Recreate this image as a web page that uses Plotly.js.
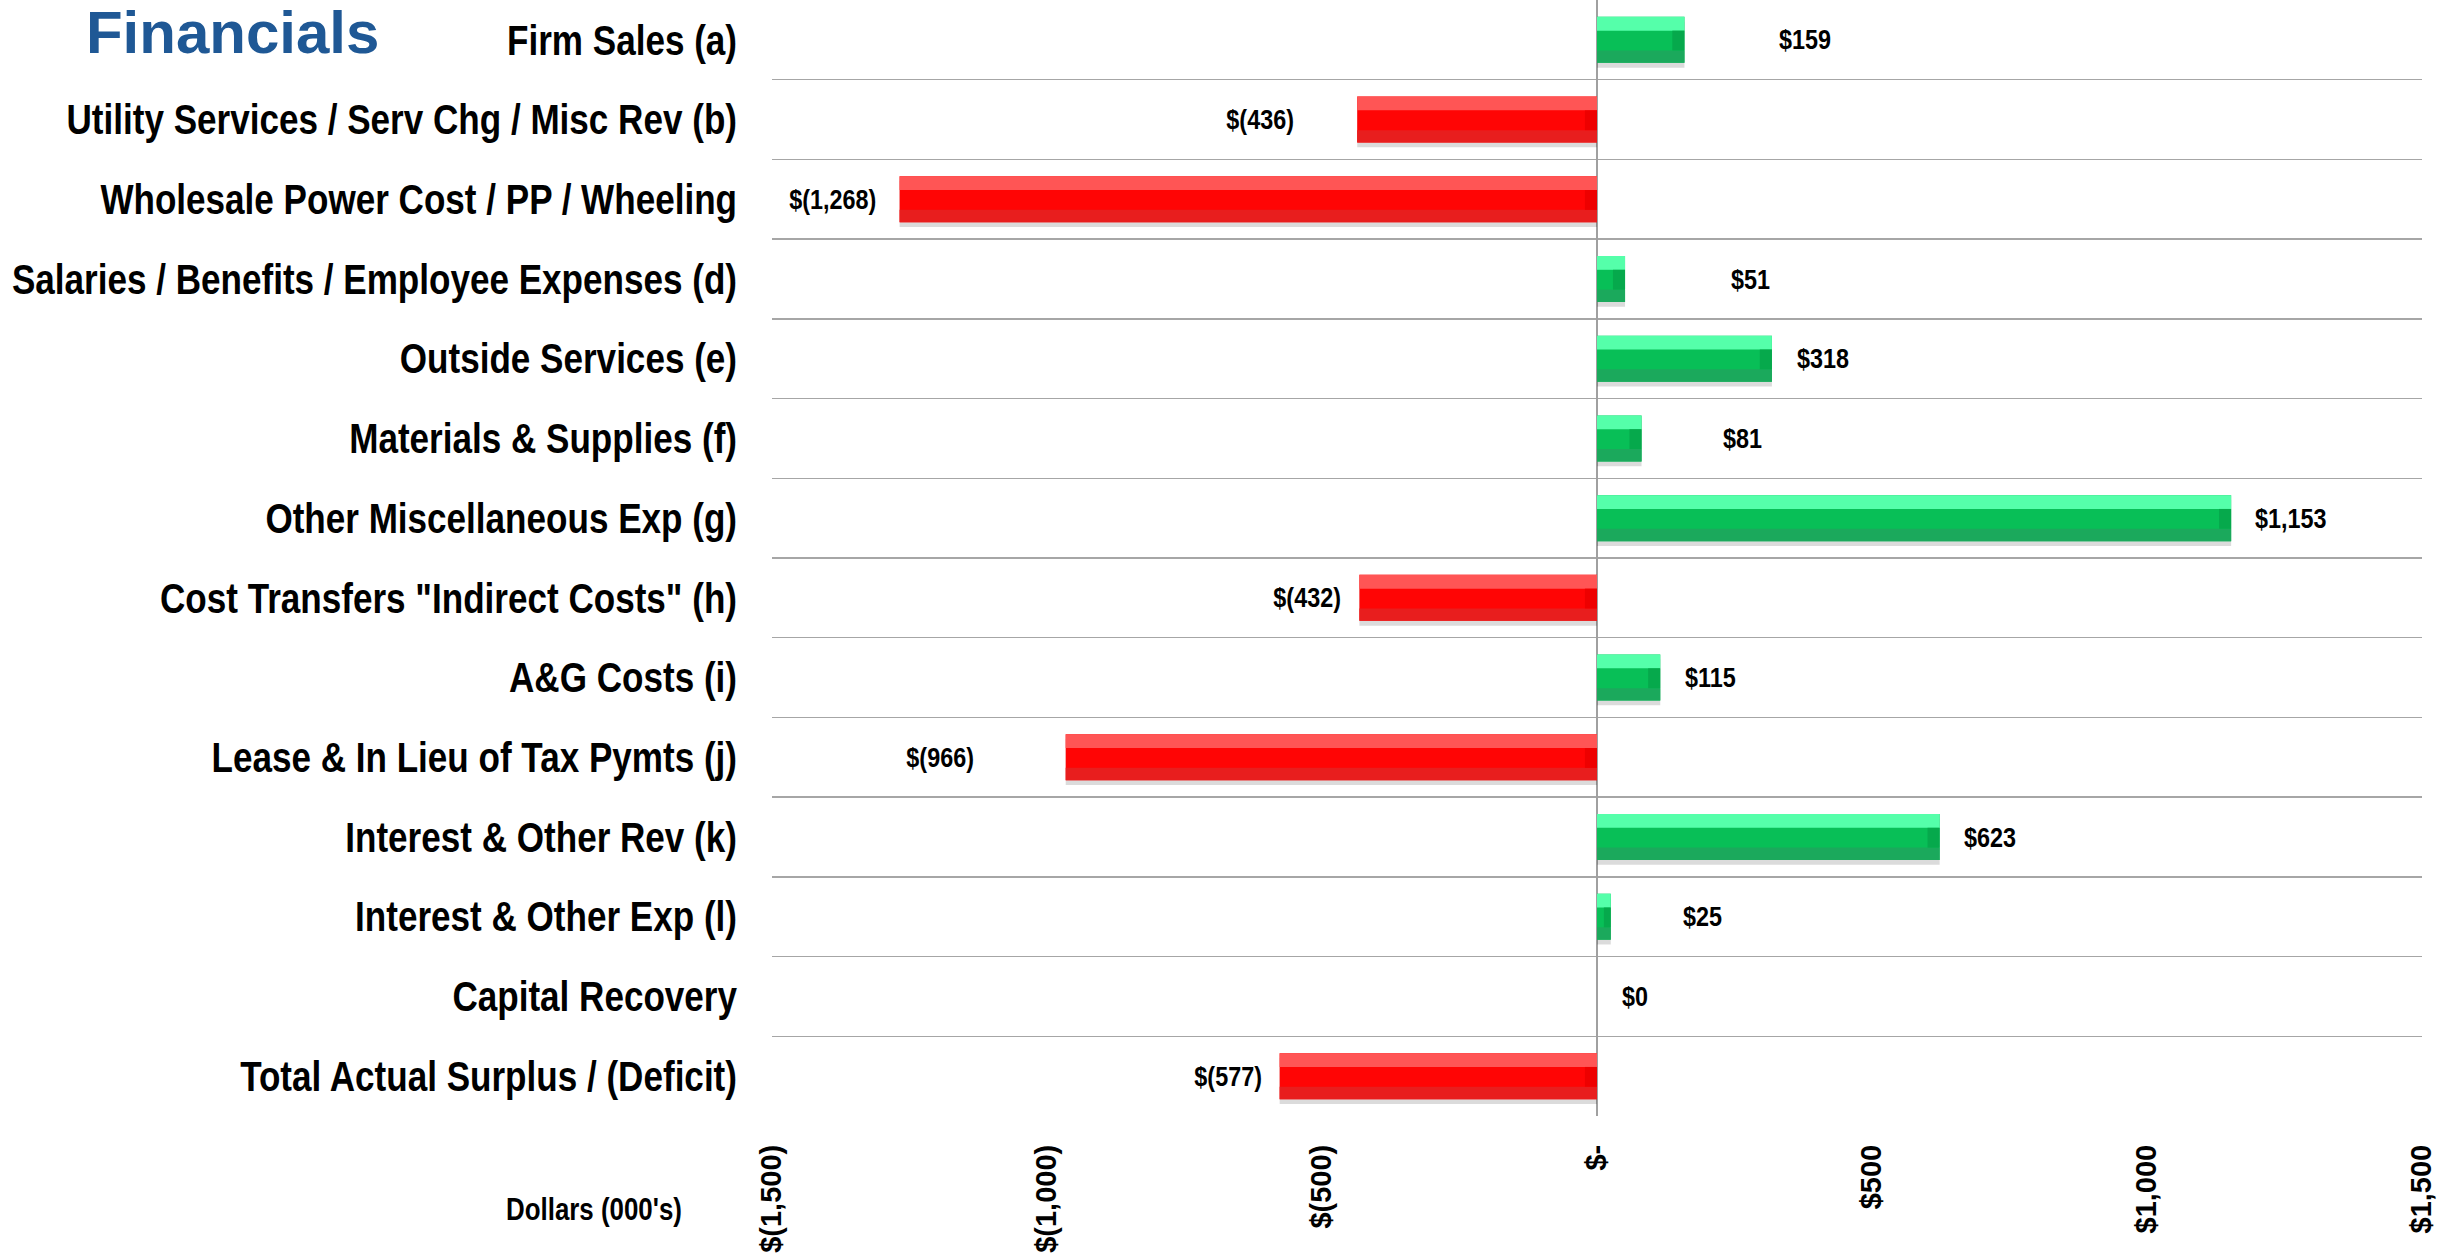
<!DOCTYPE html>
<html>
<head>
<meta charset="utf-8">
<script src="https://cdn.plot.ly/plotly-3.0.1.min.js"></script>
<style>
  html, body { margin: 0; padding: 0; background: #ffffff; }
  #chart { width: 2441px; height: 1253px; }
</style>
</head>
<body>
<div id="chart"></div>
<script>
// ---- Data ----
const categories = [
  "Firm Sales (a)",
  "Utility Services / Serv Chg / Misc Rev (b)",
  "Wholesale Power Cost / PP / Wheeling",
  "Salaries / Benefits / Employee Expenses (d)",
  "Outside Services (e)",
  "Materials & Supplies (f)",
  "Other Miscellaneous Exp (g)",
  "Cost Transfers \"Indirect Costs\" (h)",
  "A&G Costs (i)",
  "Lease & In Lieu of Tax Pymts (j)",
  "Interest & Other Rev (k)",
  "Interest & Other Exp (l)",
  "Capital Recovery",
  "Total Actual Surplus / (Deficit)"
];
const values = [159, -436, -1268, 51, 318, 81, 1153, -432, 115, -966, 623, 25, 0, -577];
const xTickVals = [-1500, -1000, -500, 0, 500, 1000, 1500];
const xTickText = ["$(1,500)", "$(1,000)", "$(500)", "$-", "$500", "$1,000", "$1,500"];
const chartTitle = "Financials";
const axisNote = "Dollars (000's)";

// ---- Styling (not data) ----
const labelGap = [93, 61, 22, 104, 23, 79, 22, 16, 23, 90, 22, 70, 23, 16]; // px nudges of value labels
const SANS = "'Liberation Sans', Arial, sans-serif";
const NARROW_K = 0.835;    // Arial Narrow look = Arial squeezed horizontally
const W = 0.577;           // bar thickness (category units)
const CAP = 22;            // bevel end-cap length in x units
const pos = { main: "#08BF57", top: "#55FFAA", bot: "#1BA95C", cap: "#06A94C" };
const neg = { main: "#FF0505", top: "#FF5555", bot: "#E81E1E", cap: "#EE0000" };
const pick = (k) => values.map(v => (v < 0 ? neg[k] : pos[k]));

function fmt(v) {
  const s = Math.abs(v).toLocaleString("en-US");
  return v < 0 ? "$(" + s + ")" : "$" + s;
}

const common = { type: "bar", orientation: "h", y: categories, hoverinfo: "skip", showlegend: false };

const traces = [
  // soft shadow
  Object.assign({}, common, { x: values, width: W, offset: -W / 2 + 0.06,
    marker: { color: "rgba(0,0,0,0.14)", line: { width: 0 } } }),
  // main body
  Object.assign({}, common, { x: values, width: W, offset: -W / 2,
    marker: { color: pick("main"), line: { width: 0 } } }),
  // top (light) bevel band
  Object.assign({}, common, { x: values, width: W * 0.3, offset: -W / 2,
    marker: { color: pick("top"), line: { width: 0 } } }),
  // bottom (dark) bevel band
  Object.assign({}, common, { x: values, width: W * 0.27, offset: W / 2 - W * 0.27,
    marker: { color: pick("bot"), line: { width: 0 } } }),
  // right-hand darker end cap (mid band)
  Object.assign({}, common, {
    x: values.map(v => Math.min(CAP, Math.abs(v) / 2)),
    base: values.map(v => (v < 0 ? -Math.min(CAP, Math.abs(v) / 2) : v - Math.min(CAP, Math.abs(v) / 2))),
    width: W * 0.43, offset: -W / 2 + W * 0.3,
    marker: { color: pick("cap"), line: { width: 0 } } })
];

const annotations = values.map((v, i) => ({
  x: v, y: categories[i], xref: "x", yref: "y",
  text: fmt(v), showarrow: false,
  xanchor: v < 0 ? "right" : "left", yanchor: "middle",
  align: v < 0 ? "right" : "left",
  xshift: v < 0 ? -labelGap[i] : labelGap[i],
  font: { family: SANS, size: 28, color: "#000000", weight: "bold" }
}));
annotations.push({
  xref: "paper", yref: "paper", x: -0.1624, y: -0.084,
  xanchor: "left", yanchor: "middle", align: "left", showarrow: false,
  text: axisNote,
  font: { family: SANS, size: 31, color: "#000000", weight: "bold" }
});

const layout = {
  width: 2441, height: 1253,
  margin: { l: 772, r: 19, t: 0, b: 137, pad: 0 },
  paper_bgcolor: "#ffffff", plot_bgcolor: "#ffffff",
  barmode: "overlay",
  showlegend: false,
  title: {
    text: chartTitle, xref: "container", yref: "container",
    x: 0.0352, xanchor: "left", y: 0.991, yanchor: "top", pad: { t: 0, l: 0 },
    font: { family: SANS, size: 60, color: "#1F5895", weight: "bold" }
  },
  xaxis: {
    range: [-1500, 1500], tickvals: xTickVals, ticktext: xTickText,
    tickangle: -90, ticks: "", showgrid: false,
    zeroline: true, zerolinecolor: "#A0A0A0", zerolinewidth: 1.5,
    showline: false, ticklabelstandoff: 22, fixedrange: true,
    tickfont: { family: SANS, size: 29, color: "#000000", weight: "bold" }
  },
  yaxis: {
    type: "category", categoryorder: "array", categoryarray: categories,
    range: [13.5, -0.5], tickson: "boundaries", ticks: "",
    showgrid: true, gridcolor: "#A6A6A6", gridwidth: 1.5,
    zeroline: false, showline: false, ticklabelstandoff: 34, fixedrange: true,
    tickfont: { family: SANS, size: 42, color: "#000000", weight: "bold" }
  },
  annotations: annotations
};

// squeeze a text element horizontally (Arial -> Arial Narrow look), keeping its anchor
function squeeze(el) {
  const n = el.getComputedTextLength();
  if (n > 0) {
    el.setAttribute("textLength", (n * NARROW_K).toFixed(2));
    el.setAttribute("lengthAdjust", "spacingAndGlyphs");
  }
}

Plotly.newPlot("chart", traces, layout, { displayModeBar: false, staticPlot: true }).then(gd => {
  gd.querySelectorAll(".ytick text").forEach(squeeze);
  gd.querySelectorAll(".annotation-text").forEach(squeeze);
});
</script>
</body>
</html>
